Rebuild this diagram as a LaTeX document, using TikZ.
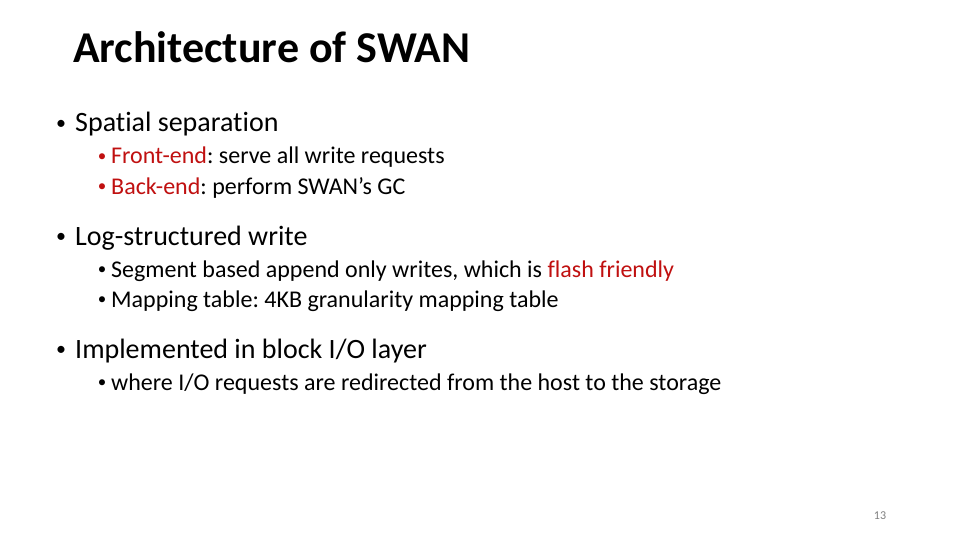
\documentclass[tikz,border=0pt]{standalone}
\usepackage{fontspec}
\setmainfont{Carlito}[Ligatures={NoCommon}]
\definecolor{slidered}{RGB}{192,16,16}
\definecolor{pagegray}{RGB}{128,128,128}

\tikzset{
  slidetitle/.style={anchor=base west, inner sep=0pt, font=\fontsize{44}{44}\selectfont\bfseries},
  levelone/.style={anchor=base west, inner sep=0pt, font=\fontsize{28}{28}\selectfont},
  leveltwo/.style={anchor=base west, inner sep=0pt, font=\fontsize{24}{24}\selectfont},
  dotone/.style={anchor=center, inner sep=0pt, font=\fontsize{20}{20}\selectfont},
  dottwo/.style={anchor=center, inner sep=0pt, font=\fontsize{17}{17}\selectfont},
  pagenum/.style={anchor=base, inner sep=0pt, text=pagegray, font=\fontsize{12}{12}\selectfont}
}

\begin{document}
\frenchspacing
\begin{tikzpicture}[x=1pt, y=-1pt]
    \fill[white] (0,0) rectangle (960,540);
    \useasboundingbox (0,0) rectangle (960,540);

    \node[slidetitle] (title) at (73,63) {Architecture of SWAN};

    % spatial separation
    \node[dotone] (dotA) at (61,125) {•};
    \node[levelone] (spatial) at (75,132) {Spatial separation};
      \node[dottwo, text=slidered] (dotA1) at (102,158) {•};
      \node[leveltwo] (front) at (111,164) {\textcolor{slidered}{Front-end}: serve all write requests};
      \node[dottwo, text=slidered] (dotA2) at (102,188) {•};
      \node[leveltwo] (back) at (111,194) {\textcolor{slidered}{Back-end}: perform SWAN’s GC};

    % log-structured write
    \node[dotone] (dotB) at (61,238) {•};
    \node[levelone] (logwrite) at (75,245) {Log-structured write};
      \node[dottwo] (dotB1) at (102,271) {•};
      \node[leveltwo] (segment) at (111,277) {Segment based append only writes, which is \textcolor{slidered}{flash friendly}};
      \node[dottwo] (dotB2) at (102,301) {•};
      \node[leveltwo] (mapping) at (111,307) {Mapping table: 4KB granularity mapping table};

    % block I/O layer
    \node[dotone] (dotC) at (61,351) {•};
    \node[levelone] (blockio) at (75,358) {Implemented in block I/O layer};
      \node[dottwo] (dotC1) at (102,384) {•};
      \node[leveltwo] (where) at (111,390) {where I/O requests are redirected from the host to the storage};

    \node[pagenum] (page) at (880,519) {13};
\end{tikzpicture}
\end{document}
